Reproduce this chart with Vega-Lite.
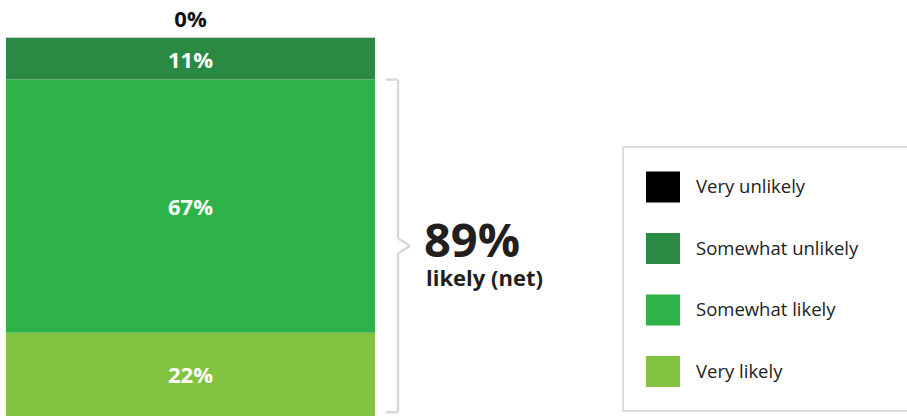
{
  "$schema": "https://vega.github.io/schema/vega-lite/v6.json",
  "width": 907,
  "height": 416,
  "padding": 0,
  "autosize": {"type": "none"},
  "background": "white",
  "config": {"view": {"stroke": null}, "font": "Open Sans"},
  "datasets": {
    "likelihood": [
      {"response": "Very likely", "share": 0.22, "rank": 1},
      {"response": "Somewhat likely", "share": 0.67, "rank": 2},
      {"response": "Somewhat unlikely", "share": 0.11, "rank": 3},
      {"response": "Very unlikely", "share": 0.0, "rank": 4}
    ]
  },
  "data": {"name": "likelihood"},
  "layer": [
    {
      "data": {"values": [{}]},
      "mark": {"type": "rule", "color": "#cfcfcf", "strokeWidth": 2},
      "encoding": {
        "x": {"datum": 6, "type": "quantitative", "scale": {"domain": [0, 907], "nice": false, "zero": false}, "axis": null},
        "x2": {"datum": 375},
        "y": {"datum": 1, "type": "quantitative", "scale": {"domain": [0, 1.1005], "nice": false}, "axis": null}
      }
    },
    {
      "transform": [
        {"stack": "share", "groupby": [], "sort": [{"field": "rank", "order": "ascending"}], "as": ["y0", "y1"]}
      ],
      "mark": {"type": "bar"},
      "encoding": {
        "x": {"datum": 6, "type": "quantitative"},
        "x2": {"datum": 375},
        "y": {"field": "y0", "type": "quantitative"},
        "y2": {"field": "y1"},
        "color": {
          "field": "response",
          "type": "nominal",
          "scale": {
            "domain": ["Very unlikely", "Somewhat unlikely", "Somewhat likely", "Very likely"],
            "range": ["#000000", "#2a8a43", "#2eb34b", "#82c341"]
          },
          "legend": {
            "orient": "none",
            "legendX": 623,
            "legendY": 147,
            "title": null,
            "symbolType": "M-1,-0.912H1V0.912H-1Z",
            "symbolSize": 1156,
            "symbolStrokeWidth": 0,
            "symbolOpacity": 1,
            "labelFont": "Open Sans",
            "labelFontSize": 18.5,
            "labelColor": "#222222",
            "labelOffset": 16,
            "labelLimit": 400,
            "rowPadding": 28.5,
            "padding": 23,
            "strokeColor": "#dddddd",
            "fillColor": "#ffffff",
            "labelExpr": "datum.label + '\u2800\u2800'",
            "encode": {"legend": {"update": {"strokeWidth": {"value": 2}}}}
          }
        }
      }
    },
    {
      "transform": [
        {"stack": "share", "groupby": [], "sort": [{"field": "rank", "order": "ascending"}], "as": ["y0", "y1"]},
        {"filter": "datum.share > 0"},
        {"calculate": "(datum.y0 + datum.y1) / 2", "as": "ymid"}
      ],
      "mark": {"type": "text", "color": "#ffffff", "fontWeight": "bold", "fontSize": 22, "baseline": "middle", "align": "center", "dy": 2},
      "encoding": {
        "x": {"datum": 190.5, "type": "quantitative"},
        "y": {"field": "ymid", "type": "quantitative"},
        "text": {"field": "share", "type": "quantitative", "format": ".0%"}
      }
    },
    {
      "transform": [
        {"stack": "share", "groupby": [], "sort": [{"field": "rank", "order": "ascending"}], "as": ["y0", "y1"]},
        {"filter": "datum.share == 0"}
      ],
      "mark": {"type": "text", "color": "#111111", "fontWeight": "bold", "fontSize": 22, "baseline": "alphabetic", "align": "center", "dy": -11},
      "encoding": {
        "x": {"datum": 190.5, "type": "quantitative"},
        "y": {"field": "y1", "type": "quantitative"},
        "text": {"field": "share", "type": "quantitative", "format": ".0%"}
      }
    },
    {
      "data": {"values": [{}]},
      "mark": {"type": "rule", "color": "#d9d9d9", "strokeWidth": 2.5},
      "encoding": {"x": {"datum": 386}, "x2": {"datum": 398}, "y": {"datum": 0.89}}
    },
    {
      "data": {"values": [{}]},
      "mark": {"type": "rule", "color": "#d9d9d9", "strokeWidth": 2.5},
      "encoding": {"x": {"datum": 386}, "x2": {"datum": 398}, "y": {"datum": 0.01}}
    },
    {
      "data": {"values": [{}]},
      "mark": {"type": "rule", "color": "#d9d9d9", "strokeWidth": 2.5},
      "encoding": {"x": {"datum": 398}, "y": {"datum": 0.89}, "y2": {"datum": 0.47}}
    },
    {
      "data": {"values": [{}]},
      "mark": {"type": "rule", "color": "#d9d9d9", "strokeWidth": 2.5},
      "encoding": {"x": {"datum": 398}, "y": {"datum": 0.43}, "y2": {"datum": 0.01}}
    },
    {
      "data": {"values": [{}]},
      "mark": {"type": "rule", "color": "#d9d9d9", "strokeWidth": 2.5},
      "encoding": {"x": {"datum": 398}, "y": {"datum": 0.47}, "x2": {"datum": 410}, "y2": {"datum": 0.45}}
    },
    {
      "data": {"values": [{}]},
      "mark": {"type": "rule", "color": "#d9d9d9", "strokeWidth": 2.5},
      "encoding": {"x": {"datum": 410}, "y": {"datum": 0.45}, "x2": {"datum": 398}, "y2": {"datum": 0.43}}
    },
    {
      "transform": [
        {"filter": "datum.response == 'Very likely' || datum.response == 'Somewhat likely'"},
        {"aggregate": [{"op": "sum", "field": "share", "as": "net"}]}
      ],
      "mark": {"type": "text", "color": "#231f20", "fontWeight": "bold", "fontSize": 47, "baseline": "alphabetic", "align": "left"},
      "encoding": {
        "x": {"datum": 424, "type": "quantitative"},
        "y": {"datum": 0.4206, "type": "quantitative"},
        "text": {"field": "net", "type": "quantitative", "format": ".0%"}
      }
    },
    {
      "data": {"values": [{"caption": "likely (net)"}]},
      "mark": {"type": "text", "color": "#231f20", "fontWeight": "bold", "fontSize": 22, "baseline": "alphabetic", "align": "left"},
      "encoding": {
        "x": {"datum": 426, "type": "quantitative"},
        "y": {"datum": 0.343, "type": "quantitative"},
        "text": {"field": "caption", "type": "nominal"}
      }
    }
  ]
}
